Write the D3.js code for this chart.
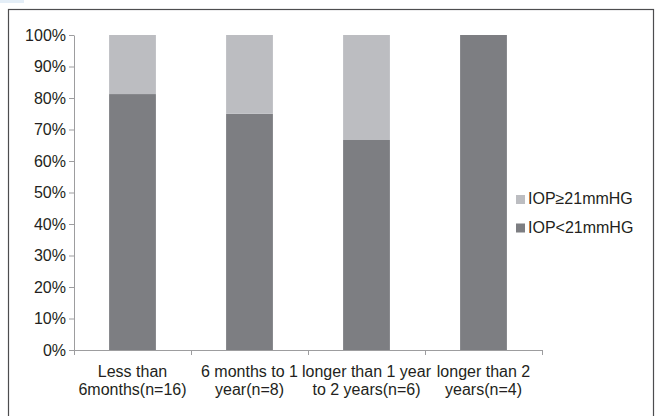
<!DOCTYPE html>
<html>
<head>
<meta charset="utf-8">
<script src="https://cdn.jsdelivr.net/npm/d3@7"></script>
<style>
  body { margin: 0; background: #fff; }
  text { font-family: "Liberation Sans", Arial, sans-serif; fill: #231f20; }
</style>
</head>
<body>
<script>
// categories and stacked shares (n per group)
var categories = [
    ["Less than", "6months(n=16)"],
    ["6 months to 1", "year(n=8)"],
    ["longer than 1 year", "to 2 years(n=6)"],
    ["longer than 2", "years(n=4)"]
];
var below21 = [13 / 16, 6 / 8, 4 / 6, 4 / 4];   // IOP<21mmHG
var above21 = [3 / 16, 2 / 8, 2 / 6, 0 / 4];    // IOP≥21mmHG
var seriesNames = ["IOP≥21mmHG", "IOP<21mmHG"];
var yTicks = [0, 0.1, 0.2, 0.3, 0.4, 0.5, 0.6, 0.7, 0.8, 0.9, 1];

var width = 657,
    height = 416;

var colors = { light: "#bcbdc1", dark: "#7d7e82" };
var fontSize = "16px";

var svg = d3.select("body")
    .append("svg")
    .attr("width", width)
    .attr("height", height);

// small tinted strip in the corner of the scan
svg.append("rect")
    .attr("x", 0).attr("y", 0)
    .attr("width", 24).attr("height", 3)
    .attr("fill", "#e4eef7");

// chart frame
svg.append("rect")
    .attr("x", 8.5).attr("y", 9.5)
    .attr("width", 645).attr("height", 420)
    .attr("fill", "none")
    .attr("stroke", "#4d4d4f")
    .attr("stroke-width", 1.2);

var x = d3.scaleBand()
    .domain(d3.range(categories.length))
    .range([74, 542])
    .paddingInner(0.6)
    .paddingOuter(0.3);

var y = d3.scaleLinear()
    .domain([0, 1])
    .range([350, 35]);

// y axis
var yAxis = svg.append("g")
    .attr("transform", "translate(74,0)")
    .call(d3.axisLeft(y)
        .tickValues(yTicks)
        .tickFormat(d3.format(".0%"))
        .tickSize(5)
        .tickSizeOuter(0));
yAxis.attr("font-size", null).attr("font-family", null);
yAxis.select(".domain").attr("stroke", "#9d9d9f");
yAxis.selectAll(".tick line").attr("stroke", "#9d9d9f");
yAxis.selectAll(".tick text")
    .attr("x", -8)
    .style("font-size", fontSize)
    .attr("fill", "#231f20");

// stacked bars
var stacked = categories.map(function(c, i){
    return { i: i, low: below21[i], high: above21[i] };
});

var groups = svg.selectAll(".bar")
    .data(stacked)
    .enter()
    .append("g")
    .attr("class", "bar");

groups.append("rect")
    .attr("x", function(d){ return x(d.i); })
    .attr("width", x.bandwidth())
    .attr("y", function(d){ return y(d.low); })
    .attr("height", function(d){ return y(0) - y(d.low); })
    .attr("fill", colors.dark);

groups.append("rect")
    .attr("x", function(d){ return x(d.i); })
    .attr("width", x.bandwidth())
    .attr("y", function(d){ return y(d.low + d.high); })
    .attr("height", function(d){ return y(d.low) - y(d.low + d.high); })
    .attr("fill", colors.light);

// x axis with ticks between categories
var xLine = d3.scaleLinear().domain([0, categories.length]).range([74, 542]);
var xAxis = svg.append("g")
    .attr("transform", "translate(0,350)")
    .call(d3.axisBottom(xLine)
        .tickValues(d3.range(categories.length + 1))
        .tickFormat("")
        .tickSize(5)
        .tickSizeOuter(0));
xAxis.select(".domain").attr("stroke", "#9d9d9f");
xAxis.selectAll(".tick line").attr("stroke", "#9d9d9f");

// category labels (two lines)
var labels = svg.selectAll(".cat")
    .data(categories)
    .enter()
    .append("text")
    .attr("class", "cat")
    .attr("text-anchor", "middle")
    .style("font-size", fontSize);

labels.selectAll("tspan")
    .data(function(d, i){ return d.map(function(t){ return { t: t, i: i }; }); })
    .enter()
    .append("tspan")
    .attr("x", function(d){ return x(d.i) + x.bandwidth() / 2; })
    .attr("y", function(d, j){ return 377 + j * 18; })
    .text(function(d){ return d.t; });

// legend
var legend = svg.selectAll(".legend")
    .data(seriesNames)
    .enter()
    .append("g")
    .attr("class", "legend")
    .attr("transform", function(d, i){ return "translate(516," + (195 + i * 28.5) + ")"; });

legend.append("rect")
    .attr("width", 9).attr("height", 9)
    .attr("fill", function(d, i){ return i === 0 ? colors.light : colors.dark; });

legend.append("text")
    .attr("x", 12)
    .attr("y", 9)
    .style("font-size", fontSize)
    .text(function(d){ return d; });
</script>
</body>
</html>
